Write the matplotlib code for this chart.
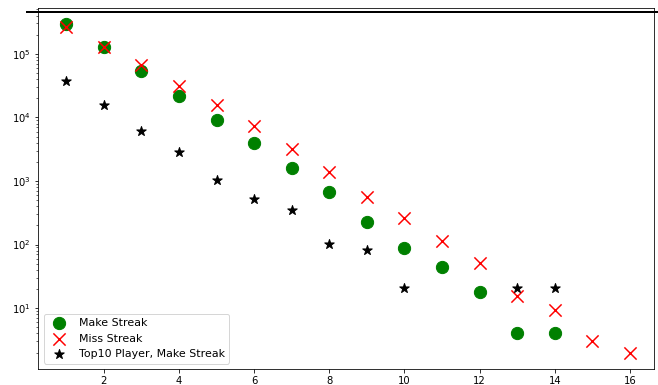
import numpy as np
import matplotlib
matplotlib.use("Agg")
import matplotlib.pyplot as plt
from matplotlib.lines import Line2D

# Streak length
make_x = [1, 2, 3, 4, 5, 6, 7, 8, 9, 10, 11, 12, 13, 14]
make_y = [290000, 127000, 53000, 21600, 9000, 3900, 1600, 667, 229, 89, 45, 18, 4, 4]

miss_x = [1, 2, 3, 4, 5, 6, 7, 8, 9, 10, 11, 12, 13, 14, 15, 16]
miss_y = [268000, 127000, 66000, 31000, 15500, 7250, 3150, 1360, 562, 264, 115, 51, 15.6, 9.2, 3, 2]

top_x = [1, 2, 3, 4, 5, 6, 7, 8, 9, 10, 13, 14]
top_y = [36800, 15800, 6100, 2850, 1030, 518, 348, 101, 82, 20.6, 20.6, 20.6]

W, H, DPI = 658, 385, 72
fig = plt.figure(figsize=(W / DPI, H / DPI), dpi=DPI)
ax = fig.add_axes([38 / W, 16 / H, 616 / W, 361 / H])

ax.scatter(make_x, make_y, s=150, c="green", marker="o", label="Make Streak")
ax.scatter(miss_x, miss_y, s=150, c="red", marker="x", label="Miss Streak")
ax.scatter(top_x, top_y, s=100, c="black", marker="*", label="Top10 Player, Make Streak")

ax.set_yscale("log")
ax.set_xlim(0.25, 16.64)
ax.legend(loc="lower left", fontsize=11)

fig.add_artist(Line2D([27 / W, 1.0], [1 - 12 / H, 1 - 12 / H], color="black", lw=2))

fig.savefig("out.png", dpi=DPI)
